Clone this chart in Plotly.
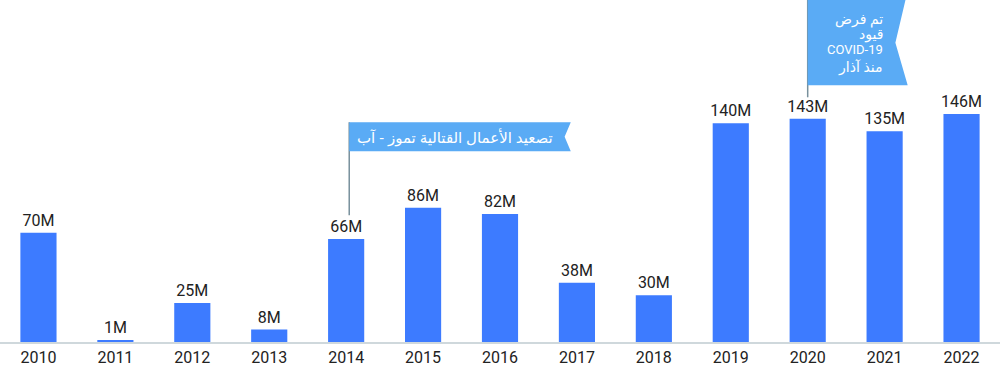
import plotly.graph_objects as go

years = [2010, 2011, 2012, 2013, 2014, 2015, 2016, 2017, 2018, 2019, 2020, 2021, 2022]
values = [70, 1, 25, 8, 66, 86, 82, 38, 30, 140, 143, 135, 146]
labels = ["70M", "1M", "25M", "8M", "66M", "86M", "82M", "38M", "30M", "140M", "143M", "135M", "146M"]

flag1_text = "تصعيد الأعمال القتالية تموز - آب"
flag2_lines = ["تم فرض", "قيود", "COVID-19", "منذ آذار"]

BAR = "#3d7bff"
FLAG = "#5aabf5"
FONT = "Roboto, 'Noto Sans', 'DejaVu Sans', sans-serif"
AFONT = "'Noto Sans', 'DejaVu Sans', sans-serif"

fig = go.Figure()
fig.add_trace(go.Bar(
    x=years, y=values, text=labels, textposition="outside", cliponaxis=False,
    constraintext="none",
    marker=dict(color=BAR, line=dict(width=0)), width=0.47,
    textfont=dict(family=FONT, size=16, color="#222222"),
    hoverinfo="skip",
))

# Flag 1 (2014)
fx, fr, fn = 2014.04, 2016.92, 2016.84
ft, fb, fl = 140.7, 122.1, 81.1
fig.add_shape(type="line", x0=fx, x1=fx, y0=fl, y1=ft, line=dict(color="#78909c", width=1.5))
fig.add_shape(type="path",
              path=f"M {fx},{fb} L {fr},{fb} L {fn},{(ft+fb)/2} L {fr},{ft} L {fx},{ft} Z",
              fillcolor=FLAG, line=dict(width=0))
fig.add_annotation(x=2015.41, y=(ft + fb) / 2, text=flag1_text, showarrow=False,
                   font=dict(family=AFONT, size=15, color="white"), xanchor="center", yanchor="middle")

# Flag 2 (2020)
gx, gr, gn = 2020.0, 2021.30, 2021.14
gt, gb, gl = 225, 164.4, 156.7
fig.add_shape(type="line", x0=gx, x1=gx, y0=gl, y1=gt, line=dict(color="#78909c", width=1.5))
fig.add_shape(type="path",
              path=f"M {gx},{gb} L {gr},{gb} L {gn},{(219+gb)/2} L {gr},{gt} L {gx},{gt} Z",
              fillcolor=FLAG, line=dict(width=0))
line_ys = [207.4, 197.8, 187.0, 176.1]
for txt, yy in zip(flag2_lines, line_ys):
    is_latin = txt.startswith("COVID")
    fig.add_annotation(x=2021.01, y=yy, text=txt, showarrow=False,
                       font=dict(family=FONT if is_latin else AFONT,
                                 size=13 if is_latin else 14, color="white"),
                       xanchor="right", yanchor="middle", align="right")

fig.update_layout(
    width=1000, height=370,
    margin=dict(l=0, r=0, t=0, b=28),
    paper_bgcolor="white", plot_bgcolor="white",
    showlegend=False,
    font=dict(family=FONT, color="#222222"),
    xaxis=dict(range=[2009.5, 2022.5], tickmode="array", tickvals=years,
               ticktext=[str(y) for y in years], showgrid=False, zeroline=False,
               showline=True, linecolor="#cfd8dc", linewidth=2, ticks="",
               tickfont=dict(family=FONT, size=16, color="#222222")),
    yaxis=dict(range=[0, 219], visible=False, showgrid=False, zeroline=False),
)

fig.write_html("out.html", config={"displayModeBar": False},
               post_script="document.body.style.margin='0';document.body.style.overflow='hidden';")
